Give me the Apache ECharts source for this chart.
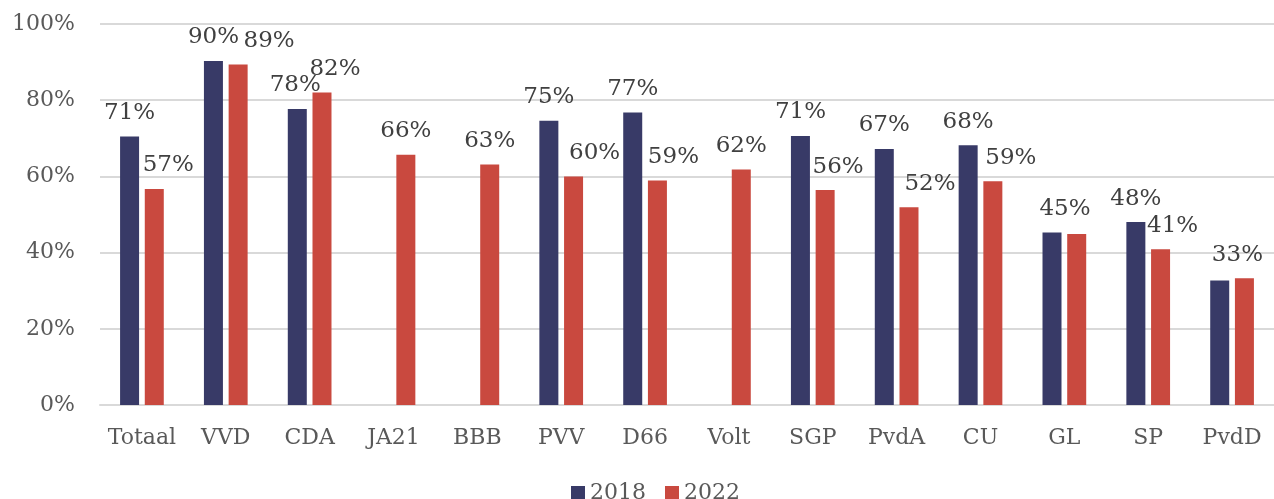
<!DOCTYPE html>
<html>
<head>
<meta charset="utf-8">
<script src="https://cdn.jsdelivr.net/npm/echarts@6/dist/echarts.min.js"></script>
<style>
html,body{margin:0;padding:0;background:#fff;}
#chart{width:1274px;height:499px;}
</style>
</head>
<body>
<div id="chart"></div>
<script>
const categories = ['Totaal','VVD','CDA','JA21','BBB','PVV','D66','Volt','SGP','PvdA','CU','GL','SP','PvdD'];
const values2018 = [70.5, 90.3, 77.7, null, null, 74.6, 76.8, null, 70.6, 67.2, 68.2, 45.3, 48.0, 32.7];
const values2022 = [56.7, 89.4, 82.0, 65.7, 63.1, 60.0, 58.9, 61.8, 56.4, 51.9, 58.7, 44.9, 40.9, 33.3];
const yTicks = [0, 20, 40, 60, 80, 100];
// labels that the reference does not draw (series index, category)
const hiddenLabels = [[0, 'PvdD'], [1, 'GL']];
// horizontal nudges of labels (layout only, as in the reference)
const labelShift = {
  '1|Totaal': 14, '1|VVD': 31, '0|CDA': -2, '1|CDA': 13, '1|PVV': 21, '1|D66': 16,
  '1|SGP': 13, '1|PvdA': 21, '1|CU': 18, '0|GL': 13, '1|SP': 12, '1|PvdD': -7
};

const FONT = 'DejaVu Serif';
function buildData(vals, si) {
  return vals.map((v, i) => {
    const cat = categories[i];
    const hidden = hiddenLabels.some(h => h[0] === si && h[1] === cat);
    const item = {value: v};
    if (hidden) item.label = {show: false};
    const sh = labelShift[si + '|' + cat];
    if (sh) item.label = {offset: [sh, 0]};
    return item;
  });
}
const labelCfg = {
  show: true, position: 'top', distance: 12,
  fontFamily: FONT, fontSize: 23, color: '#404040',
  formatter: p => Math.round(p.value) + '%'
};
const chart = echarts.init(document.getElementById('chart'));
chart.setOption({
  animation: false,
  grid: {left: 100, right: -7, top: 24, bottom: 94, containLabel: false},
  legend: {
    data: ['2018', '2022'], left: 566, top: 477,
    itemWidth: 14, itemHeight: 14, itemGap: 19,
    icon: 'rect',
    textStyle: {fontFamily: FONT, fontSize: 22, color: '#595959'}
  },
  xAxis: {
    type: 'category', data: categories,
    axisLine: {lineStyle: {color: '#d9d9d9', width: 2}},
    axisTick: {show: false},
    axisLabel: {fontFamily: FONT, fontSize: 22, color: '#595959', margin: 22, interval: 0}
  },
  yAxis: {
    type: 'value', min: yTicks[0], max: yTicks[yTicks.length - 1], interval: 20,
    axisLine: {show: false}, axisTick: {show: false},
    splitLine: {lineStyle: {color: '#d9d9d9', width: 2}},
    axisLabel: {fontFamily: FONT, fontSize: 22, color: '#595959', margin: 25,
      formatter: v => v + '%'}
  },
  series: [
    {name: '2018', type: 'bar', data: buildData(values2018, 0), barWidth: 19, barGap: '30%',
     itemStyle: {color: '#383a67'}, label: labelCfg},
    {name: '2022', type: 'bar', data: buildData(values2022, 1), barWidth: 19, barGap: '30%',
     itemStyle: {color: '#c9493f'}, label: labelCfg}
  ]
});
</script>
</body>
</html>
